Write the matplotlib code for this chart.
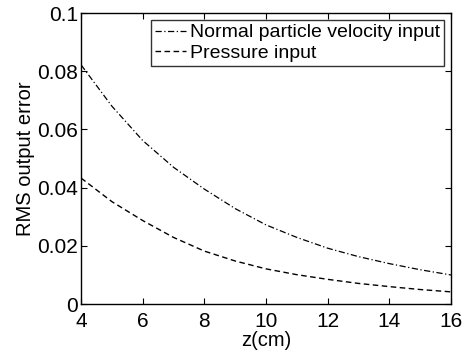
import numpy as np
import matplotlib.pyplot as plt

plt.rcParams['font.family'] = ['Liberation Sans', 'DejaVu Sans']
plt.rcParams['xtick.direction'] = 'in'
plt.rcParams['ytick.direction'] = 'in'

# values
z_cm = [4, 5, 6, 7, 8, 9, 10, 11, 12, 13, 14, 15, 16]
velocity_err = [0.0822, 0.0680, 0.0562, 0.0470, 0.0395, 0.0328, 0.0272,
                0.0229, 0.0192, 0.0163, 0.0139, 0.0118, 0.0100]
pressure_err = [0.0433, 0.0352, 0.0287, 0.0229, 0.0182, 0.0148, 0.0121,
                0.0101, 0.0085, 0.0071, 0.0060, 0.0050, 0.0042]
x_ticks = [4, 6, 8, 10, 12, 14, 16]
y_ticks = [0, 0.02, 0.04, 0.06, 0.08, 0.1]
y_ticklabels = ['0', '0.02', '0.04', '0.06', '0.08', '0.1']

fig = plt.figure(figsize=(4.66, 3.54), dpi=100)
ax = fig.add_axes([0.174, 0.141, 0.794, 0.822])

ax.plot(z_cm, velocity_err, color='black', lw=0.9, linestyle=(0, (5, 2, 1, 2)),
        label='Normal particle velocity input')
ax.plot(z_cm, pressure_err, color='black', lw=1.0, linestyle=(0, (4, 2.5)),
        label='Pressure input')

ax.set_xlim(4, 16)
ax.set_ylim(0, 0.1)
ax.set_xticks(x_ticks)
ax.set_yticks(y_ticks)
ax.set_yticklabels(y_ticklabels)
ax.tick_params(labelsize=15, top=True, right=True, length=4, width=0.8)
ax.tick_params(axis='x', pad=6)
ax.tick_params(axis='y', pad=2)
for s in ax.spines.values():
    s.set_linewidth(1.0)

ax.set_xlabel('z(cm)', fontsize=14.5, labelpad=0)
ax.set_ylabel('RMS output error', fontsize=14.5, labelpad=2)

leg = ax.legend(loc='upper right', fontsize=14, frameon=True, fancybox=False,
                edgecolor='black', handlelength=1.6, handletextpad=0.2,
                borderpad=0.2, labelspacing=0.15, borderaxespad=0.35)
leg.get_frame().set_linewidth(1.0)

fig.savefig('out.png', dpi=100)
